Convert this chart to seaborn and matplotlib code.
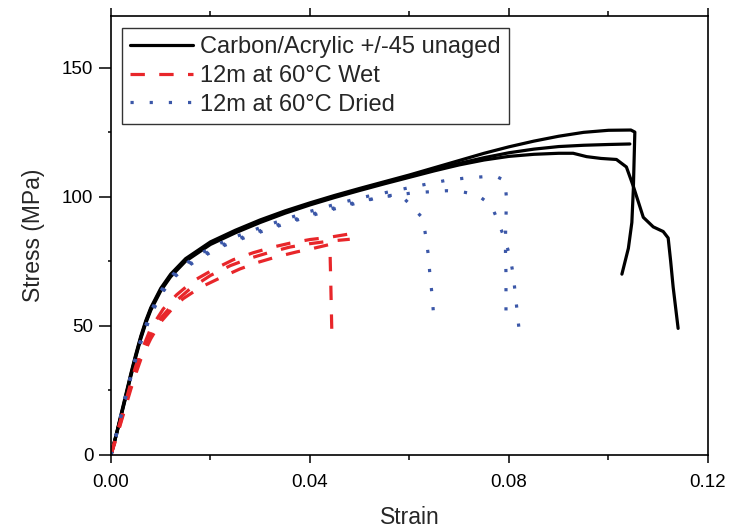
import matplotlib
matplotlib.use("Agg")
import matplotlib.pyplot as plt
from matplotlib.ticker import MultipleLocator, FormatStrFormatter
import numpy as np
import pandas as pd
import seaborn as sns

# unaged carbon/acrylic specimens
unaged_a_strain = [0, 0.001, 0.002, 0.003, 0.004, 0.005, 0.006, 0.007, 0.008, 0.010, 0.012, 0.015, 0.020, 0.025, 0.030, 0.035, 0.040, 0.045, 0.050, 0.055, 0.060, 0.065, 0.070, 0.075, 0.080, 0.085, 0.090, 0.095, 0.100, 0.1045, 0.1053, 0.1050, 0.1047, 0.1040, 0.1027]
unaged_a_stress = [0, 7.5, 15.5, 23.5, 31.5, 39, 46, 52, 57, 64.5, 70, 76, 82.5, 87, 91, 94.5, 97.6, 100.5, 103.2, 105.8, 108.4, 111.2, 114, 116.8, 119.3, 121.5, 123.4, 124.9, 125.7, 125.8, 125, 103, 90, 80, 70]
unaged_b_strain = [0, 0.001, 0.002, 0.003, 0.004, 0.005, 0.006, 0.007, 0.008, 0.010, 0.012, 0.015, 0.020, 0.025, 0.030, 0.035, 0.040, 0.045, 0.050, 0.055, 0.060, 0.065, 0.070, 0.075, 0.080, 0.085, 0.090, 0.095, 0.100, 0.1043]
unaged_b_stress = [0, 7.3, 15, 23, 31, 38.5, 45.5, 51.5, 56.5, 64, 69.5, 75.5, 82, 86.5, 90.5, 94, 97.2, 100.1, 102.8, 105.4, 107.9, 110.5, 112.9, 115.1, 117, 118.4, 119.4, 119.9, 120.2, 120.4]
unaged_c_strain = [0, 0.001, 0.002, 0.003, 0.004, 0.005, 0.006, 0.007, 0.008, 0.010, 0.012, 0.015, 0.020, 0.025, 0.030, 0.035, 0.040, 0.045, 0.050, 0.055, 0.060, 0.065, 0.070, 0.075, 0.080, 0.085, 0.090, 0.0929, 0.0956, 0.0985, 0.1016, 0.1036, 0.1050, 0.1070, 0.1090, 0.1110, 0.1120, 0.1125, 0.1130, 0.1140]
unaged_c_stress = [0, 7.2, 14.8, 22.5, 30.5, 38, 45, 51, 56, 63.5, 69, 75, 81.5, 86, 90, 93.6, 96.8, 99.7, 102.4, 105, 107.5, 110, 112.3, 114.2, 115.6, 116.4, 116.8, 116.8, 115.5, 114.8, 114.4, 111.5, 104, 92, 88.3, 86.5, 84, 75, 65, 49]

# 12 months at 60 C, tested wet
wet_a_strain = [0, 0.001, 0.002, 0.003, 0.004, 0.005, 0.0065, 0.008, 0.0105, 0.0132, 0.0165, 0.0206, 0.0246, 0.0286, 0.0326, 0.036, 0.040, 0.044, 0.0487]
wet_a_stress = [0, 7, 14, 21, 28, 34.5, 42, 49, 56.5, 62, 67.3, 71.8, 75.6, 78.3, 80.5, 82, 83.4, 84.3, 85.8]
wet_b_strain = [0, 0.001, 0.002, 0.003, 0.004, 0.005, 0.0065, 0.008, 0.010, 0.013, 0.016, 0.020, 0.024, 0.028, 0.032, 0.036, 0.040, 0.044, 0.048]
wet_b_stress = [0, 6.5, 13, 20, 26.5, 33, 40.5, 46.5, 53, 59.5, 64.5, 69.5, 73.3, 76.2, 78.5, 80.5, 81.8, 82.8, 83.5]
wet_c_strain = [0, 0.001, 0.002, 0.003, 0.004, 0.005, 0.006, 0.008, 0.010, 0.0125, 0.0145, 0.0179, 0.0219, 0.0259, 0.0296, 0.0333, 0.0373, 0.0407, 0.0440, 0.0442, 0.0444]
wet_c_stress = [0, 6, 12.5, 19, 25.5, 31.5, 37, 45, 51.5, 57, 60.5, 64.8, 68.5, 72, 74.6, 76.7, 78.6, 80, 81.5, 65, 47]

# 12 months at 60 C, dried
dried_a_strain = [0, 0.001, 0.002, 0.003, 0.004, 0.005, 0.006, 0.008, 0.010, 0.0125, 0.015, 0.018, 0.022, 0.026, 0.030, 0.035, 0.040, 0.045, 0.050, 0.054, 0.058, 0.0601, 0.0627, 0.0633, 0.0638, 0.0641, 0.0645, 0.0648]
dried_a_stress = [0, 7, 15, 22.5, 30, 37, 43.5, 54, 62, 68.5, 72.5, 76.3, 80.5, 83.5, 86.3, 89.5, 92.5, 95.3, 97.8, 99.8, 101, 97, 91.6, 84.3, 77.2, 70, 62.7, 55.5]
dried_b_strain = [0, 0.001, 0.002, 0.003, 0.004, 0.005, 0.006, 0.008, 0.010, 0.0125, 0.015, 0.018, 0.022, 0.026, 0.030, 0.035, 0.040, 0.045, 0.050, 0.055, 0.0608, 0.0675, 0.0702, 0.0736, 0.0765, 0.0779, 0.0792, 0.0803, 0.0809, 0.0813, 0.0817, 0.0821]
dried_b_stress = [0, 7.2, 15.2, 23, 30.5, 37.5, 44, 54.5, 62.5, 69, 73, 77, 81, 84, 86.8, 90, 93, 95.7, 98.2, 100, 101.5, 102.3, 102, 100.8, 96.5, 90, 83.3, 76.2, 69, 61.8, 54.5, 47.3]
dried_c_strain = [0, 0.001, 0.002, 0.003, 0.004, 0.005, 0.006, 0.008, 0.010, 0.0125, 0.015, 0.018, 0.022, 0.026, 0.030, 0.035, 0.040, 0.045, 0.050, 0.055, 0.0628, 0.0671, 0.0712, 0.0755, 0.0777, 0.0792, 0.0795, 0.0794, 0.0793, 0.0793, 0.0794, 0.0794, 0.0794]
dried_c_stress = [0, 7.4, 15.5, 23.5, 31, 38, 44.8, 55.5, 63.5, 70, 74, 78, 82, 85.2, 88, 91.3, 94.3, 97, 99.5, 101.5, 104.6, 106.2, 107.2, 107.8, 107.6, 106.2, 99.3, 92, 84.8, 77.5, 70.3, 63, 55.7]

groups = ["Carbon/Acrylic +/-45 unaged", "12m at 60°C Wet", "12m at 60°C Dried"]
colors = ["#000000", "#e8262a", "#3b57a8"]

specimens = [
    (groups[0], "u1", unaged_a_strain, unaged_a_stress),
    (groups[0], "u2", unaged_b_strain, unaged_b_stress),
    (groups[0], "u3", unaged_c_strain, unaged_c_stress),
    (groups[1], "w1", wet_a_strain, wet_a_stress),
    (groups[1], "w2", wet_b_strain, wet_b_stress),
    (groups[1], "w3", wet_c_strain, wet_c_stress),
    (groups[2], "d1", dried_a_strain, dried_a_stress),
    (groups[2], "d2", dried_b_strain, dried_b_stress),
    (groups[2], "d3", dried_c_strain, dried_c_stress),
]
frames = []
for group, unit, strain, stress in specimens:
    frames.append(pd.DataFrame({"Strain": strain, "Stress": stress, "group": group, "unit": unit}))
df = pd.concat(frames, ignore_index = True)

sns.set_style("ticks")
plt.rcParams["font.family"] = ["Liberation Sans", "DejaVu Sans"]

fig = plt.figure(figsize = (7.31, 5.29), dpi = 100)
ax = fig.add_axes([0.1518, 0.140, 0.8167, 0.830])
sns.lineplot(data = df, x = "Strain", y = "Stress", hue = "group", style = "group", units = "unit",
             estimator = None, sort = False, hue_order = groups, style_order = groups,
             palette = colors, dashes = {groups[0]: "", groups[1]: (4.5, 4.5), groups[2]: (1, 5)},
             linewidth = 2.3, ax = ax)

ax.set_xlim(0, 0.12)
ax.set_ylim(0, 170)
ax.xaxis.set_major_locator(MultipleLocator(0.04))
ax.xaxis.set_minor_locator(MultipleLocator(0.02))
ax.yaxis.set_major_locator(MultipleLocator(50))
ax.yaxis.set_minor_locator(MultipleLocator(25))
ax.xaxis.set_major_formatter(FormatStrFormatter('%.2f'))
ax.tick_params(axis = "both", which = "both", direction = "out", width = 1.1, colors = "black", labelsize = 13.5)
ax.tick_params(axis = "x", which = "major", length = 5.8, pad = 8)
ax.tick_params(axis = "x", which = "minor", length = 3.6)
ax.tick_params(axis = "y", which = "major", length = 9, pad = 3.6)
ax.tick_params(axis = "y", which = "minor", length = 2.5)
ax.tick_params(axis = "x", which = "both", top = True)
ax.tick_params(axis = "y", which = "both", right = False)
for spine in ax.spines.values():
    spine.set_visible(True)
    spine.set_linewidth(1.2)
    spine.set_color("black")
ax.set_xlabel("Strain", fontsize = 16.5, labelpad = 11)
ax.set_ylabel("Stress (MPa)", fontsize = 16.5, labelpad = 12)

handles, labels = ax.get_legend_handles_labels()
leg = ax.legend(handles, labels, loc = "upper left", bbox_to_anchor = (0.018, 0.972), borderaxespad = 0,
                fontsize = 17, frameon = True, fancybox = False, edgecolor = "#333333", framealpha = 1,
                handlelength = 2.65, handletextpad = 0.32, labelspacing = 0.28, borderpad = 0.35)
leg.get_frame().set_linewidth(1.0)

fig.savefig("out.png", dpi = 100)
plt.close()
